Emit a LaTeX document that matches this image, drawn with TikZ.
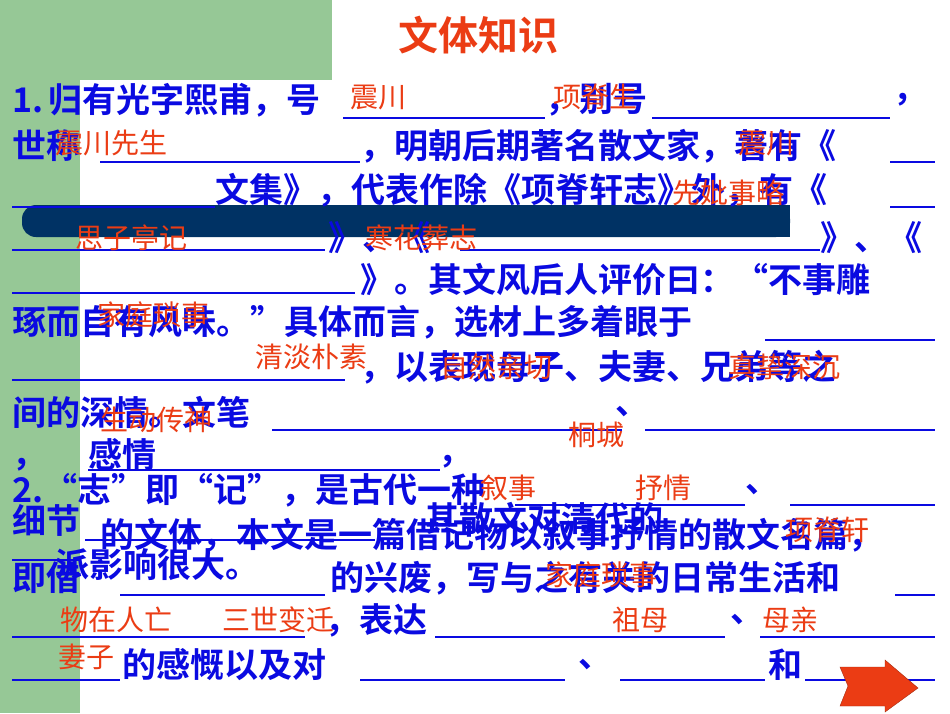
\documentclass[tikz,border=0pt]{standalone}
\usepackage{fontspec}
\newfontfamily\cjk{Noto Sans CJK SC}
\newfontfamily\cjkb{Noto Sans CJK SC Bold}
\usetikzlibrary{shapes.arrows}
\definecolor{blu}{RGB}{10,10,225}
\definecolor{rd}{RGB}{235,60,20}
\definecolor{grn}{RGB}{150,200,150}
\definecolor{navy}{RGB}{0,50,100}
\tikzset{
 btxt/.style={anchor=west,inner sep=0pt,text=blu,font=\cjkb\fontsize{34}{34}\selectfont},
 rtxt/.style={anchor=west,inner sep=0pt,text=rd,font=\cjk\fontsize{28}{28}\selectfont},
 uline/.style={draw=blu,line width=1.3pt}}
\newcommand\Bt[3]{\node[btxt] at (#1,#2) {#3};}
\newcommand\Rt[3]{\node[rtxt] at (#1,#2) {#3};}
\newcommand\Ul[3]{\draw[uline] (#1,#3) -- (#2,#3);}
\begin{document}
\begin{tikzpicture}[x=1pt,y=-1pt]
\useasboundingbox (0,0) rectangle (950,713);
\fill[white] (0,0) rectangle (950,713);
\fill[grn] (0,0) rectangle (80,713);
\fill[grn] (0,0) rectangle (332,80);
\fill[white] (80,713) -- (80,100) arc[start angle=180,end angle=90,radius=20] -- (332,80) -- (332,0) -- (950,0) -- (950,713) -- cycle;
\fill[navy,rounded corners=14pt] (22,205) rectangle (790,237);
\fill[navy] (500,205) rectangle (790,237);
\node[text=rd,font=\cjkb\fontsize{40}{40}\selectfont] (title) at (478,35) {文体知识};
% line 1
\Bt{12}{100}{1.\,归有光字熙甫，号} \Ul{343}{545}{118} \Bt{545}{100}{，别号} \Ul{652}{890}{118} \Bt{893}{100}{，}
\Rt{350}{97}{震川} \Rt{553}{97}{项脊生}
% line 2
\Bt{12}{146}{世称} \Ul{100}{360}{162} \Bt{360}{146}{，明朝后期著名散文家，著有《} \Ul{890}{935}{162}
\Rt{55}{143}{震川先生} \Rt{738}{143}{震川}
% line 3
\Ul{12}{215}{207} \Bt{215}{190}{文集》，代表作除《项脊轩志》外，有《} \Ul{890}{935}{207}
\Rt{672}{193}{先妣事略}
% line 4
\Ul{12}{325}{250} \Bt{328}{238}{》、《} \Ul{460}{820}{250} \Bt{820}{238}{》、《}
\Rt{75}{238}{思子亭记} \Rt{365}{238}{寒花葬志}
% line 5
\Ul{12}{355}{293} \Bt{360}{280}{》。其文风后人评价曰：“不事雕}
% line 6
\Bt{12}{322}{琢而自有风味。”具体而言，选材上多着眼于} \Ul{765}{935}{340}
\Rt{97}{315}{家庭琐事}
% line 7
\Ul{12}{345}{380} \Bt{360}{367}{，以表现母子、夫妻、兄弟等之}
\Rt{255}{357}{清淡朴素} \Rt{440}{367}{自然亲切} \Rt{728}{367}{真挚深沉}
% line 8
\Bt{12}{412}{间的深情。文笔} \Ul{272}{622}{430} \Bt{615}{412}{、} \Ul{645}{935}{430}
\Rt{100}{420}{生动传神} \Rt{568}{435}{桐城}
% line 9
\Bt{12}{465}{，} \Bt{88}{455}{感情} \Ul{88}{440}{470} \Bt{438}{462}{，}
% line 10
\Bt{12}{490}{2.“志”即“记”，是古代一种} \Ul{515}{745}{505} \Bt{745}{490}{、} \Ul{790}{935}{505}
\Rt{480}{488}{叙事} \Rt{635}{488}{抒情}
% line 11
\Bt{12}{520}{细节} \Ul{85}{375}{540} \Bt{100}{535}{的文体，本文是一篇借记物以叙事抒情的散文名篇，}
\Bt{425}{518}{其散文对清代的} \Rt{785}{530}{项脊轩}
\Ul{12}{80}{560}
% line 12
\Bt{12}{578}{即借} \Bt{55}{565}{派影响很大。} \Ul{120}{325}{595} \Bt{330}{578}{的兴废，写与之有关的日常生活和} \Ul{895}{935}{595}
\Rt{545}{575}{家庭琐事}
% line 13
\Ul{12}{305}{637} \Bt{325}{620}{，表达} \Ul{435}{725}{637} \Bt{730}{620}{、} \Ul{760}{935}{637}
\Rt{60}{620}{物在人亡} \Rt{222}{620}{三世变迁} \Rt{612}{620}{祖母} \Rt{762}{620}{母亲}
% line 14
\Ul{12}{120}{680} \Bt{122}{665}{的感慨以及对} \Ul{360}{565}{680} \Bt{578}{665}{、} \Ul{620}{765}{680} \Bt{768}{665}{和} \Ul{805}{935}{680}
\Rt{58}{657}{妻子}
% arrow
\fill[rd,draw=rd!70!black] (840,667) -- (885,667) -- (885,660) -- (918,688) -- (885,712) -- (885,706) -- (840,706) -- (848,686) -- cycle;
\end{tikzpicture}
\end{document}
